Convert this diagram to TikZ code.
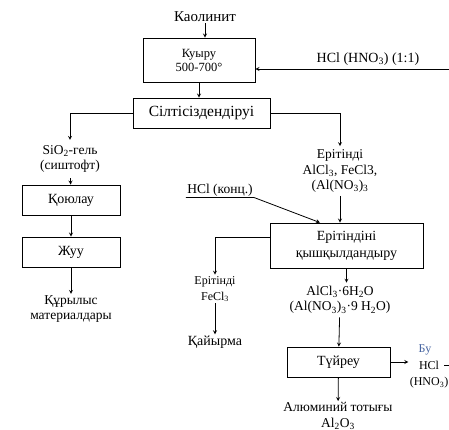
\documentclass[tikz,border=0pt]{standalone}
\usepackage{fontspec}
\setmainfont{Liberation Serif}
\usetikzlibrary{positioning}
\definecolor{bublue}{RGB}{70,100,160}
\begin{document}
\begin{tikzpicture}[x=1pt,y=-1pt,>=stealth,line width=0.8pt,
    proc/.style={draw, rectangle, align=center, inner sep=1pt, font=\fontsize{14}{17}\selectfont},
    lbl/.style={align=center, inner sep=1pt, font=\fontsize{13.5}{15.5}\selectfont},
    small/.style={align=center, inner sep=1pt, font=\fontsize{12}{16}\selectfont}]
        \useasboundingbox (0,0) rectangle (449,430);
        \node (kaolin) [lbl, font=\fontsize{15}{16}\selectfont] at (205,17) {Каолинит};
        \node (kuyru) [proc, minimum width=112, minimum height=44, font=\fontsize{12.5}{14}\selectfont] at (199,60) {Куыру\\500-700°};
        \node (silt) [proc, minimum width=137, minimum height=30, font=\fontsize{15.5}{17}\selectfont] at (201.5,113) {Сілтісіздендіруі};
        \node (hclnitr) [lbl, font=\fontsize{14}{16}\selectfont] at (368,59) {HCl (HNO\textsubscript{3}) (1:1)};
        \coordinate (hclin) at (449,69);

        \draw[->] (kaolin.south) -- (kaolin.south |- kuyru.north);
        \draw[->] (hclin) -- (kuyru.east |- hclin);
        \draw[->] (kuyru.south) -- (kuyru.south |- silt.north);

        % left branch
        \node (sio2) [lbl, inner sep=5pt] at (70,159) {SiO\textsubscript{2}-гель\\(сиштофт)};
        \node (qoyu) [proc, minimum width=98, minimum height=30] at (71,200) {Қоюлау};
        \node (zhuu) [proc, minimum width=98, minimum height=30] at (71,252) {Жуу};
        \node (qurylys) [lbl] at (71,309) {Құрылыс\\материалдары};

        \draw[->] (silt.west) -| (sio2.north);
        \draw[->] (sio2) -- (qoyu);
        \draw[->] (qoyu) -- (zhuu);
        \draw[->] (zhuu) -- (qurylys);

        % right branch
        \node (erit1) [lbl, inner sep=3pt] at (340,171) {Ерітінді\\AlCl\textsubscript{3}, FeCl3,\\(Al(NO\textsubscript{3})\textsubscript{3}};
        \node (qysh) [proc, minimum width=153, minimum height=45] at (346.5,245.5) {Ерітіндіні\\қышқылдандыру};
        \node (hclk) [lbl] at (220,190) {HCl (конц.)};

        \draw[->] (silt.east) -| (erit1.north);
        \draw[->] (erit1.south) -- (erit1.south |- qysh.north);
        \draw[->] (hclk.south west) -- (hclk.south east) -- ([xshift=-26.5pt]qysh.north);

        \node (erit2) [small] at (215,289) {Ерітінді\\FeCl\textsubscript{3}};
        \node (qaiyrma) [lbl, font=\fontsize{14}{16}\selectfont] at (215,342) {Қайырма};
        \node (alcl) [lbl, inner sep=3pt] at (340,300) {AlCl\textsubscript{3}·6H\textsubscript{2}O\\(Al(NO\textsubscript{3})\textsubscript{3}·9 H\textsubscript{2}O)};
        \node (tuireu) [proc, minimum width=103, minimum height=30] at (338.5,362) {Түйреу};

        \draw[->] ([yshift=8.5pt]qysh.west) -| (erit2.north);
        \draw[->] (erit2) -- (qaiyrma);
        \draw[->] (qysh.south) -- (qysh.south |- alcl.north);
        \draw[->] (alcl) -- (tuireu);

        \node (bu) [small, text=bublue] at (425,350) {Бу};
        \node (hclnitr2) [small] at (429,375) {HCl\\(HNO\textsubscript{3})};
        \node (al2o3) [lbl] at (338,416) {Алюминий тотығы\\Al\textsubscript{2}O\textsubscript{3}};
        \coordinate (recycle) at (449,365);

        \draw[->] (tuireu.east) -- (tuireu.east -| hclnitr2.west);
        \draw (recycle) -- ++(-5,0);
        \draw[->] (tuireu) -- (al2o3);
    \end{tikzpicture}
\end{document}
